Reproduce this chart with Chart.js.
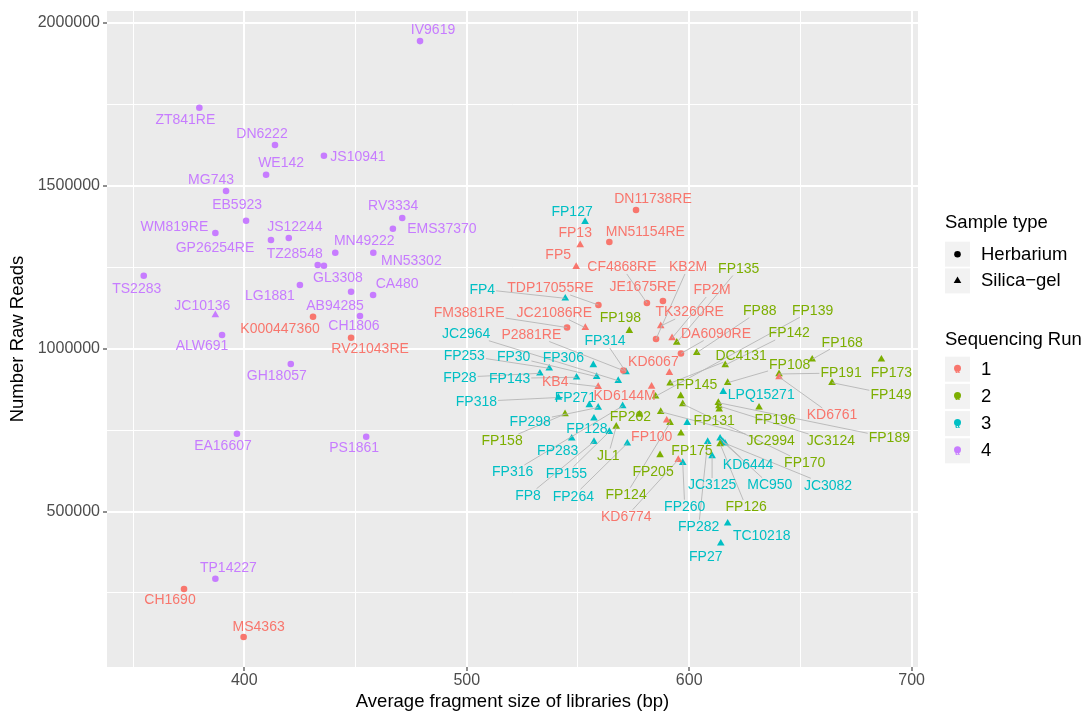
<!DOCTYPE html>
<html>
<head>
<meta charset="utf-8">
<script src="https://cdn.jsdelivr.net/npm/chart.js@4.4.1/dist/chart.umd.min.js"></script>
<style>
  html, body { margin: 0; padding: 0; background: #fff; }
  #wrap { width: 1083px; height: 713px; }
</style>
</head>
<body>
<div id="wrap"><canvas id="chart" width="1083" height="713"></canvas></div>
<script>
// ---------- Data ----------
const sampleNames = [
  "IV9619","ZT841RE","DN6222","JS10941","WE142","MG743","EB5923","RV3334","EMS37370","WM819RE",
  "JS12244","GP26254RE","MN49222","TZ28548","MN53302","TS2283","GL3308","CA480","LG1881","AB94285",
  "JC10136","CH1806","ALW691","GH18057","EA16607","PS1861","TP14227",
  "K000447360","RV21043RE","CH1690","MS4363","DN11738RE","FP13","MN51154RE","FP5","CF4868RE","TDP17055RE",
  "JE1675RE","KB2M","FP2M","TK3260RE","FM3881RE","JC21086RE","DA6090RE","P2881RE","KD6067","KB4",
  "KD6144M","KD6761","FP100","KD6774",
  "FP135","FP198","FP88","FP139","FP142","FP168","DC4131","FP108","FP191","FP173",
  "FP145","FP149","FP196","FP131","FP189","JC2994","JC3124","FP170","FP202","FP158",
  "JL1","FP175","FP205","FP124","FP126",
  "FP127","FP4","JC2964","FP314","FP253","FP30","FP306","FP28","FP143","FP318",
  "FP271","FP298","FP128","FP283","FP316","FP155","FP8","FP264","FP260","FP282",
  "TC10218","FP27","LPQ15271","KD6444","JC3125","MC950","JC3082",""
];

// average fragment size (bp)
const fragSize = [
  479.0,379.8,413.8,435.8,409.8,391.8,400.8,471.0,466.8,387.0,
  420.0,412.0,440.9,433.0,458.0,354.8,435.8,457.9,425.0,448.0,
  387.0,452.0,390.0,420.9,396.7,454.8,387.0,
  430.9,448.0,372.9,399.7,576.1,551.0,564.1,549.2,581.0,559.2,
  588.2,585.1,592.3,587.2,545.1,553.3,596.3,570.4,591.1,559.1,
  583.1,640.4,589.9,595.1,
  594.4,573.1,603.4,584.9,616.2,655.3,591.4,617.3,640.4,686.4,
  596.2,664.2,631.4,613.5,613.1,587.2,613.4,597.1,577.6,544.2,
  567.2,596.3,586.9,591.4,613.9,
  553.2,544.3,568.1,571.6,537.1,558.4,556.9,532.9,549.4,541.2,
  555.1,559.1,557.2,547.2,570.1,564.1,557.2,572.2,597.1,608.3,
  617.3,614.2,615.3,613.9,610.3,615.1,616.1,599.1
];

// number of raw reads
const rawReads = [
  1943000,1738700,1624200,1591400,1533100,1483100,1392000,1400300,1367500,1354300,
  1339000,1332800,1293900,1256100,1293900,1223300,1254000,1164100,1194800,1174200,
  1102800,1099700,1041400,952500,738600,729400,293900,
  1097500,1033100,262300,115000,1424800,1317500,1326700,1250900,1139600,1133400,
  1145700,1029100,1032200,1069000,1064400,1063800,984700,932500,925800,882800,
  883400,912600,779800,658900,
  1018400,1054600,987100,853400,949400,966900,893300,895100,921800,966900,
  854300,895100,819600,813500,833700,806100,823600,829800,797500,799100,
  760700,739900,673300,772400,707100,
  1389000,1154000,901200,927900,939300,913500,949400,923900,911700,849700,
  826700,819000,785900,724500,823600,744800,714100,709200,649700,714100,
  463800,402500,867500,724500,670200,714100,709200,772400
];

// H = Herbarium, S = Silica-gel
const sampleType = [
  "H","H","H","H","H","H","H","H","H","H",
  "H","H","H","H","H","H","H","H","H","H",
  "S","H","H","H","H","H","H",
  "H","H","H","H","H","S","H","S","H","H",
  "H","H","S","S","H","S","H","H","S","S",
  "S","S","S","S",
  "S","S","S","S","S","S","S","S","S","S",
  "S","S","S","S","S","S","S","S","S","S",
  "S","S","S","S","S",
  "S","S","S","S","S","S","S","S","S","S",
  "S","S","S","S","S","S","S","S","S","S",
  "S","S","S","S","S","S","S","S"
];

const seqRun = [
  4,4,4,4,4,4,4,4,4,4, 4,4,4,4,4,4,4,4,4,4, 4,4,4,4,4,4,4,
  1,1,1,1,1,1,1,1,1,1, 1,1,1,1,1,1,1,1,1,1, 1,1,1,1,
  2,2,2,2,2,2,2,2,2,2, 2,2,2,2,2,2,2,2,2,2, 2,2,2,2,2,
  3,3,3,3,3,3,3,3,3,3, 3,3,3,3,3,3,3,3,3,3, 3,3,3,3,3,3,3,3
];

const typeNames = { H: "Herbarium", S: "Silica\u2212gel" };
const runLevels = [1, 2, 3, 4];
const runColors = ["#F8766D", "#7CAE00", "#00BFC4", "#C77CFF"];

const xTicks = [350, 400, 450, 500, 550, 600, 650, 700];
const yTicks = [250000, 500000, 750000, 1000000, 1250000, 1500000, 1750000, 2000000];

// repelled label placement (pixel offset from its point)
const labelDX = [
  13,-14,-13,34,15,-15,-9,-9,49,-41, 6,-56,29,-23,38,-7,14,24,-30,-16, -13,-6,-20,-14,-14,-12,13,
  -33,19,-14,15,17,-5,36,-18,-25,-48, -20,32,40,29,-98,-31,35,-92,-16,-43, -27,53,-15,-52,
  62,-9,63,157,64,30,71,62,62,10, 16,59,16,-5,171,110,112,122,-9,-63, -8,11,-7,-44,26,
  -13,-83,-152,-21,-85,-83,-30,-80,-67,-82, -14,-68,-7,-14,-110,-43,-66,-54,2,-9, 34,-15,38,28,0,47,103,0
];
const labelDY = [
  -11,12,-11,1,-12,-11,-16,-12,0,-6, -11,8,-12,-11,8,13,12,-11,11,14, -9,10,11,12,12,11,-11,
  12,11,11,-10,-11,-12,-10,-12,-36,-17, -14,-72,-48,-14,-15,-15,-20,-36,-11,-5, 9,38,16,57,
  -74,-13,-42,-86,-32,-17,-28,-18,-1,13, -11,12,12,11,35,29,35,59,2,27, 29,17,17,72,63,
  -10,-9,-47,-31,-13,-20,-7,4,1,4, -7,14,10,12,66,42,54,53,44,85, 12,13,3,26,29,43,42,0
];

// ---------- Plugins ----------
const FONT = '"Liberation Sans", Arial, Helvetica, sans-serif';
const CIRCLE_R = 3.3;
const TRI_R = 4.4;

const panelBg = {
  id: "panelBg",
  beforeDraw(chart) {
    const { ctx, chartArea: a } = chart;
    ctx.save();
    ctx.fillStyle = "#FFFFFF";
    ctx.fillRect(0, 0, chart.width, chart.height);
    ctx.fillStyle = "#EBEBEB";
    ctx.fillRect(a.left, a.top, a.right - a.left, a.bottom - a.top);
    ctx.restore();
  }
};

const repelLabels = {
  id: "repelLabels",
  afterDatasetsDraw(chart) {
    const { ctx } = chart;
    const x = chart.scales.x, y = chart.scales.y;
    ctx.save();
    ctx.font = "14px " + FONT;
    let items = sampleNames.map((name, i) => {
      const px = x.getPixelForValue(fragSize[i]);
      const py = y.getPixelForValue(rawReads[i]);
      return {
        name, i, px, py,
        lx: px + labelDX[i], ly: py + labelDY[i],
        hw: ctx.measureText(name).width / 2 + 1, hh: 7
      };
    }).filter(d => d.name);

    // segments
    ctx.strokeStyle = "#b5b5b5";
    ctx.lineWidth = 0.9;
    items.forEach(d => {
      const vx = d.px - d.lx, vy = d.py - d.ly;
      const tx = vx ? d.hw / Math.abs(vx) : Infinity;
      const ty = vy ? d.hh / Math.abs(vy) : Infinity;
      const t = Math.min(tx, ty);
      if (t >= 1) return;
      const sx = d.lx + vx * t, sy = d.ly + vy * t;
      if (Math.hypot(d.px - sx, d.py - sy) < 16) return;
      ctx.beginPath();
      ctx.moveTo(sx, sy);
      ctx.lineTo(d.px, d.py);
      ctx.stroke();
    });

    // texts
    ctx.textAlign = "center";
    ctx.textBaseline = "middle";
    items.forEach(d => {
      ctx.fillStyle = runColors[seqRun[d.i] - 1];
      ctx.fillText(d.name, d.lx, d.ly + 0.5);
    });
    ctx.restore();
  }
};

function drawTriangle(ctx, cx, cy, r) {
  ctx.beginPath();
  for (let k = 0; k < 3; k++) {
    const a = k * 2 * Math.PI / 3;
    const px = cx + Math.sin(a) * r, py = cy - Math.cos(a) * r;
    if (k === 0) ctx.moveTo(px, py); else ctx.lineTo(px, py);
  }
  ctx.closePath();
  ctx.fill();
}

const ggLegend = {
  id: "ggLegend",
  afterDraw(chart) {
    const { ctx } = chart;
    const left = 945, key = 25, textX = 981;
    ctx.save();
    ctx.textBaseline = "middle";
    ctx.textAlign = "left";

    // Sample type
    ctx.fillStyle = "#000";
    ctx.font = "18.5px " + FONT;
    ctx.fillText("Sample type", left, 223);
    ["H", "S"].forEach((t, k) => {
      const top = 241.7 + k * 26.7, cy = top + key / 2;
      ctx.fillStyle = "#F2F2F2";
      ctx.fillRect(left, top, key, key);
      ctx.fillStyle = "#000";
      if (t === "H") {
        ctx.beginPath(); ctx.arc(left + key / 2, cy, CIRCLE_R, 0, Math.PI * 2); ctx.fill();
      } else {
        drawTriangle(ctx, left + key / 2, cy, TRI_R);
      }
      ctx.font = "18.5px " + FONT;
      ctx.fillText(typeNames[t], textX, cy + 0.5);
    });

    // Sequencing Run
    ctx.fillStyle = "#000";
    ctx.fillText("Sequencing Run", left, 339.5);
    runLevels.forEach((r, k) => {
      const top = 356.7 + k * 27.2, cy = top + key / 2;
      ctx.fillStyle = "#F2F2F2";
      ctx.fillRect(left, top, key, key);
      ctx.fillStyle = runColors[k];
      ctx.beginPath(); ctx.arc(left + key / 2, cy - 1, 3.5, 0, Math.PI * 2); ctx.fill();
      ctx.font = "bold 8px " + FONT;
      ctx.textAlign = "center";
      ctx.fillText("a", left + key / 2, cy + 1.8);
      ctx.textAlign = "left";
      ctx.fillStyle = "#000";
      ctx.font = "18.5px " + FONT;
      ctx.fillText(String(r), textX, cy + 0.5);
    });
    ctx.restore();
  }
};

// ---------- Chart ----------
const datasets = runLevels.map((r, k) => {
  const pts = [];
  seqRun.forEach((run, i) => {
    if (run === r) pts.push({ x: fragSize[i], y: rawReads[i], i });
  });
  return {
    label: "Run " + r,
    data: pts,
    backgroundColor: runColors[k],
    borderWidth: 0,
    pointStyle: c => (c.raw && sampleType[c.raw.i] === "S") ? "triangle" : "circle",
    pointRadius: c => (c.raw && sampleType[c.raw.i] === "S") ? TRI_R : CIRCLE_R
  };
});

const majorX = v => v % 100 === 0;
const majorY = v => v % 500000 === 0;

new Chart(document.getElementById("chart"), {
  type: "scatter",
  data: { datasets },
  options: {
    responsive: false,
    animation: false,
    devicePixelRatio: 1,
    events: [],
    layout: { padding: { top: 11, right: 165, bottom: 0, left: 0 } },
    plugins: { legend: { display: false }, tooltip: { enabled: false } },
    scales: {
      x: {
        type: "linear",
        min: 338.28,
        max: 702.86,
        afterBuildTicks: s => { s.ticks = xTicks.map(v => ({ value: v })); },
        afterFit: s => { s.height = 46; s.paddingLeft = 0; s.paddingRight = 0; },
        border: { display: false },
        grid: {
          color: "#FFFFFF",
          lineWidth: c => (c.tick && majorX(c.tick.value)) ? 2 : 1,
          tickLength: 4,
          tickWidth: 1.1,
          tickColor: c => (c.tick && majorX(c.tick.value)) ? "#333333" : "rgba(0,0,0,0)"
        },
        ticks: {
          autoSkip: false, maxRotation: 0, padding: 0,
          color: "#4D4D4D",
          font: { family: FONT, size: 16 },
          callback: v => majorX(v) ? String(v) : ""
        },
        title: {
          display: true,
          text: "Average fragment size of libraries (bp)",
          color: "#000",
          font: { family: FONT, size: 18.5 },
          padding: { top: 0, bottom: 0 }
        }
      },
      y: {
        type: "linear",
        min: 23000,
        max: 2035300,
        afterBuildTicks: s => { s.ticks = yTicks.map(v => ({ value: v })); },
        afterFit: s => { s.width = 107; s.paddingTop = 0; s.paddingBottom = 0; },
        border: { display: false },
        grid: {
          color: "#FFFFFF",
          lineWidth: c => (c.tick && majorY(c.tick.value)) ? 2 : 1,
          tickLength: 4,
          tickWidth: 1.1,
          tickColor: c => (c.tick && majorY(c.tick.value)) ? "#333333" : "rgba(0,0,0,0)"
        },
        ticks: {
          autoSkip: false, padding: 3,
          color: "#4D4D4D",
          font: { family: FONT, size: 16 },
          callback: v => majorY(v) ? String(v) : ""
        },
        title: {
          display: true,
          text: "Number Raw Reads",
          color: "#000",
          font: { family: FONT, size: 18.5 },
          padding: { top: 7, bottom: 0 }
        }
      }
    }
  },
  plugins: [panelBg, repelLabels, ggLegend]
});
</script>
</body>
</html>
